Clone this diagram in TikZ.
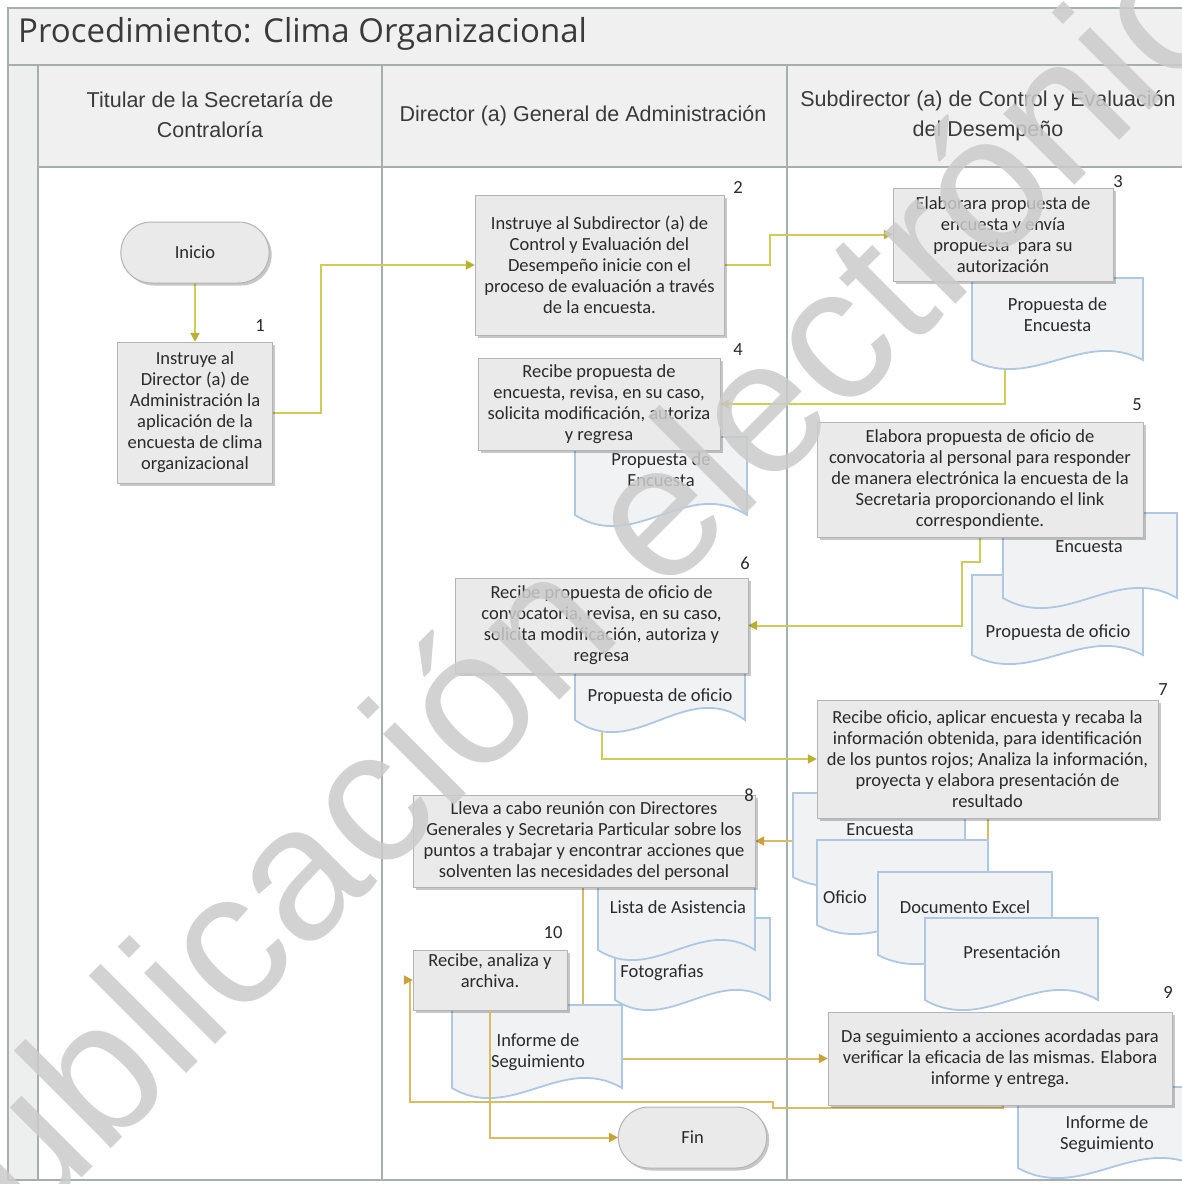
\documentclass[tikz,border=0pt]{standalone}
\usepackage{fontspec}
\setmainfont{Carlito}
\newfontfamily\hdrfont{Liberation Sans}
\newfontfamily\ttlfont{Open Sans}
\newfontfamily\wmfont{Liberation Sans}
\usetikzlibrary{arrows.meta,shapes.misc,shadows}
\definecolor{boxfill}{HTML}{EAEAEA}
\definecolor{boxdraw}{HTML}{B4B4B4}
\definecolor{docfill}{HTML}{F1F2F4}
\definecolor{docdraw}{HTML}{AEC8E4}
\definecolor{bandfill}{HTML}{F0F0F0}
\definecolor{stripfill}{HTML}{EDEEEE}
\definecolor{laneline}{HTML}{A6AEAE}
\definecolor{connA}{HTML}{D0CC5C}
\definecolor{tipA}{HTML}{B8B032}
\definecolor{connB}{HTML}{D8BC66}
\definecolor{tipB}{HTML}{C9A23A}
\definecolor{txt}{HTML}{2A2A2A}
\definecolor{hdrtext}{HTML}{3A3A3A}
\definecolor{wmgray}{HTML}{CBCBCB}
\newcommand\boxfs{\fontsize{18.5}{21}\selectfont}
\newcommand\hdrfs{\hdrfont\fontsize{21.5}{30}\selectfont}
\newcommand\ttlfs{\ttlfont\fontsize{33}{38}\selectfont}
\newcommand\docshape[5]{%
  \filldraw[docsh] (#1,#2) -- (#3,#2) -- (#3,#4)
    .. controls ({#1+0.65*(#3-#1)},{#4-3.5*#5}) and ({#1+0.35*(#3-#1)},{#4+3.5*#5}) .. (#1,#4) -- cycle;}
\tikzset{
  box/.style={draw=boxdraw, fill=boxfill, line width=1pt, align=center, inner sep=0pt,
    font=\boxfs, text=txt,
    drop shadow={shadow xshift=2.5pt, shadow yshift=-2.5pt, fill=black, opacity=0.22}},
  boxtxt/.style={align=center, inner sep=0pt, font=\boxfs, text=txt},
  term/.style={rounded rectangle, draw=boxdraw, fill=boxfill, line width=1pt,
    minimum width=155pt, minimum height=61pt, font=\boxfs, text=txt,
    drop shadow={shadow xshift=2.5pt, shadow yshift=-2.5pt, fill=black, opacity=0.22}},
  docsh/.style={draw=docdraw, fill=docfill, line width=1.8pt},
  doctext/.style={align=center, inner sep=0pt, font=\boxfs, text=txt},
  conn/.style={draw=connA, line width=2pt, -{Triangle[length=9pt,width=9pt,color=tipA]}},
  connb/.style={draw=connB, line width=2pt, -{Triangle[length=9pt,width=9pt,color=tipB]}},
  plainb/.style={draw=connB, line width=2pt},
  numlab/.style={font=\boxfs, inner sep=0pt, text=txt},
  hdr/.style={font=\hdrfs, align=center, text=hdrtext, inner sep=0pt},
  lane/.style={draw=laneline, line width=1.5pt},
  wm/.style={font=\wmfont\fontsize{190}{190}\selectfont, text=wmgray, opacity=0.85, inner sep=0pt}
}
\begin{document}
\begin{tikzpicture}[x=1pt,y=-1pt]
\useasboundingbox (0,0) rectangle (1182,1184);
\fill[white] (0,0) rectangle (1182,1184);
% bands
\fill[bandfill] (8,8) rectangle (1182,65);
\fill[bandfill] (38,65) rectangle (1182,167);
\fill[stripfill] (8,65) rectangle (38,1180);
\draw[lane] (8,1180) -- (8,8) -- (1182,8);
\draw[lane] (8,1180) -- (1182,1180);
\draw[lane] (8,65) -- (1182,65);
\draw[lane] (38,167) -- (1182,167);
\draw[lane] (38,65) -- (38,1180);
\draw[lane] (382,65) -- (382,1180);
\draw[lane] (787,65) -- (787,1180);
% title and headers
\node[anchor=west, font=\ttlfs, text=hdrtext, inner sep=0pt] (title) at (18,34) {Procedimiento: Clima Organizacional};
\node[hdr] (h1) at (210,115) {Titular de la Secretaría de\\Contraloría};
\node[hdr] (h2) at (583,116) {Director (a) General de Administración};
\node[hdr] (h3) at (988,116) {Subdirector (a) de Control y Evaluación\\del Desempeño};

% coordinates for connector ends
\coordinate (pe3b) at (1005,366);
\coordinate (po2b) at (602,728);
\coordinate (b8out) at (583,887);
\coordinate (b9out) at (1003,1105);

% invisible copies of the boxes to route connectors first
\begin{scope}[every node/.append style={draw=none, fill=none, text opacity=0}]
\path (195,252.5) node[rounded rectangle, minimum width=155pt, minimum height=61pt] (inicio) {};
\path (195,412.5) node[minimum width=155pt, minimum height=141pt] (box1) {};
\path (599.5,265) node[minimum width=249pt, minimum height=140pt] (box2) {};
\path (1003,234.5) node[minimum width=220pt, minimum height=93pt] (box3) {};
\path (599,404) node[minimum width=242pt, minimum height=92pt] (box4) {};
\path (980,479.5) node[minimum width=326pt, minimum height=115pt] (box5) {};
\path (601.5,625.5) node[minimum width=293pt, minimum height=95pt] (box6) {};
\path (987.5,759) node[minimum width=341pt, minimum height=118pt] (box7) {};
\path (584,841) node[minimum width=342pt, minimum height=92pt] (box8) {};
\path (1000,1058.5) node[minimum width=344pt, minimum height=93pt] (box9) {};
\path (490,980) node[minimum width=154pt, minimum height=60pt] (box10) {};
\path (692.5,1137.5) node[rounded rectangle, minimum width=155pt, minimum height=61pt] (fin) {};
\end{scope}

% connectors under the shapes
\draw[conn] (inicio) -- (box1);
\draw[conn] (box1.east) -- ++(48,0) |- (box2.west);
\draw[conn] (box2.east) -- ++(46,0) |- (box3.west);
\draw[conn] (pe3b) |- (box4.east);
\draw[conn] (box5.south) -- ++(0,25) -- ++(-18,0) |- (box6.east);
\draw[conn] (po2b) |- (box7.west);
\draw[connb] (box7.south) |- (box8.east);
\draw[connb] (b8out) |- (box9.west);
\draw[connb] (b9out) -- ++(0,3) -- (773,1108) -- (773,1102) -- (410,1102) |- (box10.west);

% shapes, in stacking order
\node[term] (inicioV) at (inicio) {Inicio};
\node[box, minimum width=155pt, minimum height=141pt] (box1V) at (box1)
  {Instruye al\\Director (a) de\\Administración la\\aplicación de la\\encuesta de clima\\organizacional};
\node[box, minimum width=249pt, minimum height=140pt] (box2V) at (box2)
  {Instruye al Subdirector (a) de\\Control y Evaluación del\\Desempeño inicie con el\\proceso de evaluación a través\\de la encuesta.};
\docshape{972}{278}{1143}{360}{9}
\node[doctext] (dpe3) at (1057.5,315) {Propuesta de\\Encuesta};
\node[box, minimum width=220pt, minimum height=93pt] (box3V) at (box3)
  {Elaborara propuesta de\\encuesta y envía\\propuesta~ para su\\autorización};
\docshape{575}{437}{747}{515}{11}
\node[doctext] (dpe2) at (661,470) {Propuesta de\\Encuesta};
\node[box, minimum width=242pt, minimum height=92pt] (box4V) at (box4)
  {Recibe propuesta de\\encuesta, revisa, en su caso,\\solicita modificación, autoriza\\y regresa};
\docshape{972}{575}{1143}{655}{9}
\node[doctext] (dpo3) at (1058,633) {Propuesta de oficio};
\docshape{1003}{513}{1177}{598}{10}
\node[doctext] (de3) at (1089,547) {Encuesta};
\node[box, minimum width=326pt, minimum height=115pt] (box5V) at (box5)
  {Elabora propuesta de oficio de\\convocatoria al personal para responder\\de manera electrónica la encuesta de la\\Secretaria proporcionando el link\\correspondiente.};
\docshape{575}{660}{745}{720}{12}
\node[doctext] (dpo2) at (660,697) {Propuesta de oficio};
\node[box, minimum width=293pt, minimum height=95pt] (box6V) at (box6)
  {Recibe propuesta de oficio de\\convocatoria, revisa, en su caso,\\solicita modificación, autoriza y\\regresa};
\docshape{793}{793}{965}{877}{9}
\node[doctext] (de7) at (880,830) {Encuesta};
\docshape{817}{840}{988}{925}{9}
\node[doctext] (do7) at (845,897) {Oficio};
\docshape{878}{872}{1052}{955}{9}
\node[doctext] (dx7) at (965,907) {Documento Excel};
\docshape{925}{918}{1098}{1000}{10}
\node[doctext] (dp7) at (1012,952) {Presentación};
\node[box, minimum width=341pt, minimum height=118pt] (box7V) at (box7)
  {Recibe oficio, aplicar encuesta y recaba la\\información obtenida, para identificación\\de los puntos rojos; Analiza la información,\\proyecta y elabora presentación de\\resultado};
\docshape{615}{918}{770}{1000}{10}
\node[doctext] (df8) at (662,973) {Fotografias};
\docshape{598}{880}{755}{950}{10}
\node[doctext] (dl8) at (678,907) {Lista de Asistencia};
\node[box, minimum width=342pt, minimum height=92pt] (box8V) at (box8)
  {Lleva a cabo reunión con Directores\\Generales y Secretaria Particular sobre los\\puntos a trabajar y encontrar acciones que\\solventen las necesidades del personal};
\docshape{452}{1005}{622}{1088}{10}
\node[doctext] (di2) at (538,1052) {Informe de\\Seguimiento};
\node[box, minimum width=154pt, minimum height=60pt] (box10V) at (box10) {};
\node[boxtxt] (box10t) at (490,971) {Recibe, analiza y\\archiva.};
\docshape{1018}{1087}{1200}{1168}{10}
\node[doctext] (di3) at (1107,1134) {Informe de\\Seguimiento};
\node[box, minimum width=344pt, minimum height=93pt] (box9V) at (box9)
  {Da seguimiento a acciones acordadas para\\verificar la eficacia de las mismas. Elabora\\informe y entrega.};
\node[term] (finV) at (fin) {Fin};

% connector over the report document
\draw[connb] (box10.south) |- (fin.west);

% step numbers
\node[numlab] (n1) at (260,326) {1};
\node[numlab] (n2) at (738,187) {2};
\node[numlab] (n3) at (1118,182) {3};
\node[numlab] (n4) at (738,350) {4};
\node[numlab] (n5) at (1137,405) {5};
\node[numlab] (n6) at (745,563) {6};
\node[numlab] (n7) at (1163,690) {7};
\node[numlab] (n8) at (749,795) {8};
\node[numlab] (n9) at (1168,992) {9};
\node[numlab] (n10) at (553,933) {10};

% watermark
\node[wm, rotate=45, anchor=base west] (wm) at (-62,1322) {Publicación electrónica};
\end{tikzpicture}
\end{document}
